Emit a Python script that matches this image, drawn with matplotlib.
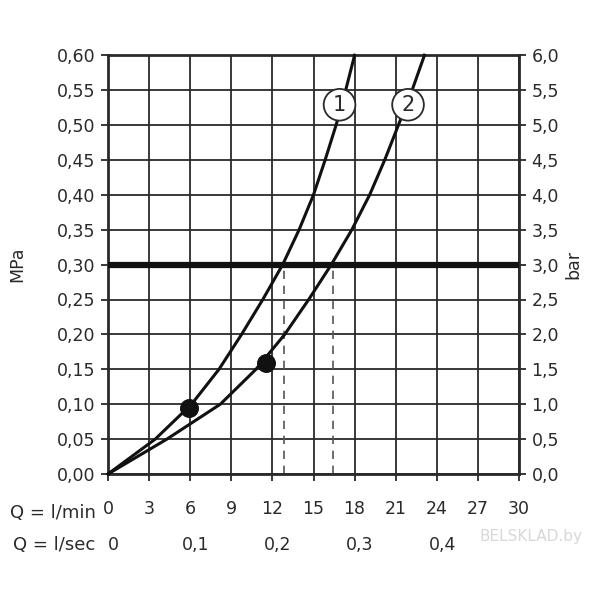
import numpy as np
import matplotlib
matplotlib.use("Agg")
import matplotlib.pyplot as plt
from matplotlib.transforms import blended_transform_factory

# pressure levels (MPa) and flow (l/min)
pressure = [0.0, 0.05, 0.10, 0.15, 0.20, 0.25, 0.30, 0.35, 0.40, 0.45, 0.50, 0.55, 0.60]
flow_1 = [0.0, 3.45, 6.1, 8.1, 9.75, 11.3, 12.75, 13.95, 15.0, 15.85, 16.65, 17.35, 18.0]
flow_2 = [0.0, 4.3, 8.2, 10.8, 12.9, 14.65, 16.3, 17.8, 19.1, 20.2, 21.2, 22.2, 23.1]

# marked points on the curves
dots_q = [5.93, 11.53]
dots_p = [0.095, 0.159]

# reference pressure and where the curves cross it
ref_p = 0.30
cross_q = [12.85, 16.4]

# circled curve labels
label_txt = ["1", "2"]
label_q = [16.9, 21.9]
label_p = [0.529, 0.529]

xticks_min = list(range(0, 31, 3))
xticks_sec = [0, 0.1, 0.2, 0.3, 0.4]
yticks_mpa = [round(0.05 * i, 2) for i in range(13)]
yticks_bar = [round(0.5 * i, 1) for i in range(13)]

INK = "#2a2a2a"
plt.rcParams["font.family"] = "DejaVu Sans"

fig = plt.figure(figsize=(6, 6), dpi=100)
ax = fig.add_axes([0.18, 0.21, 0.685, 0.698])

ax.set_xlim(0, 30)
ax.set_ylim(0, 0.6)
ax.set_xticks(xticks_min)
ax.set_yticks(yticks_mpa)
ax.grid(True, color=INK, lw=1.3)
ax.set_axisbelow(True)

ax.set_yticklabels([f"{v:.2f}".replace(".", ",") for v in yticks_mpa],
                   fontsize=12.5, color=INK)
ax.set_xticklabels([str(v) for v in xticks_min], fontsize=12.5, color=INK)
ax.tick_params(axis="both", direction="out", length=5, width=1.3, color=INK, pad=4)
ax.tick_params(axis="x", pad=14)
for s in ax.spines.values():
    s.set_color(INK)
    s.set_linewidth(2)

ax.set_ylabel("MPa", fontsize=12.5, color=INK, labelpad=22)

# thick reference line and dashed drops
ax.axhline(ref_p, color="#111111", lw=4.5, zorder=3)
for q in cross_q:
    ax.plot([q, q], [0, ref_p], color="#555555", lw=1.2, ls=(0, (5, 4)), zorder=2)

ax.plot(flow_1, pressure, color="#111111", lw=2.2, zorder=4, clip_on=False,
        solid_joinstyle="round")
ax.plot(flow_2, pressure, color="#111111", lw=2.2, zorder=4, clip_on=False,
        solid_joinstyle="round")
ax.scatter(dots_q, dots_p, s=160, color="#111111", zorder=5)

for t, q, p in zip(label_txt, label_q, label_p):
    ax.text(q, p, t, ha="center", va="center", fontsize=15, color=INK, zorder=7,
            bbox=dict(boxstyle="circle,pad=0.28", fc="white", ec=INK, lw=1.3))

# right axis in bar
ax2 = ax.twinx()
ax2.set_ylim(0, 6)
ax2.set_yticks(yticks_bar)
ax2.set_yticklabels([f"{v:.1f}".replace(".", ",") for v in yticks_bar],
                    fontsize=12.5, color=INK)
ax2.tick_params(axis="y", direction="out", length=5, width=1.3, color=INK, pad=4)
for s in ax2.spines.values():
    s.set_visible(False)
ax2.set_ylabel("bar", fontsize=12.5, color=INK, labelpad=4)

# flow label rows below the axis
tr = blended_transform_factory(ax.transData, ax.transAxes)
row1_y = -0.092
row2_y = -0.17
ax.text(-0.9, row1_y, "Q = l/min", transform=tr, ha="right", va="center",
        fontsize=13, color=INK)
ax.text(-0.9, row2_y, "Q = l/sec", transform=tr, ha="right", va="center",
        fontsize=13, color=INK)
for v in xticks_sec:
    lab = "0" if v == 0 else f"{v:.1f}".replace(".", ",")
    ax.text(v * 60 + 0.4, row2_y, lab, transform=tr, ha="center", va="center",
            fontsize=12.5, color=INK)

fig.text(0.885, 0.105, "BELSKLAD.by", ha="center", va="center",
         fontsize=11, color="#d8d8d8")

fig.savefig("out.png", dpi=100)
